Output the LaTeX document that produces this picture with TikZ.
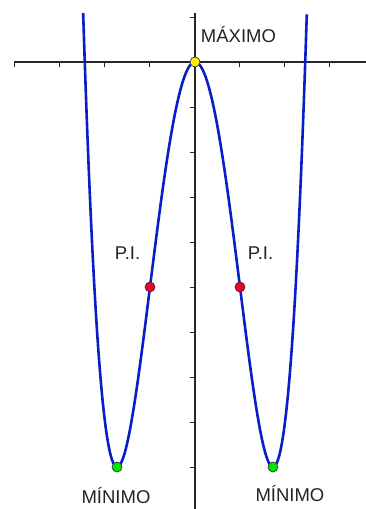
\documentclass[tikz,border=0pt]{standalone}
\usepackage{fontspec}
\setmainfont{Liberation Sans}
\definecolor{curveblue}{RGB}{10,30,200}
\definecolor{labelgray}{RGB}{35,35,35}
\definecolor{ptyellow}{RGB}{255,240,0}
\definecolor{ptred}{RGB}{240,0,40}
\definecolor{ptgreen}{RGB}{0,230,0}
\begin{document}
\begin{tikzpicture}[x=45pt,y=45pt,
  axisline/.style={line width=1.4pt,black!85},
  tickline/.style={line width=1pt,black!85},
  curveline/.style={line width=2.6pt,curveblue},
  lbl/.style={text=labelgray,font=\fontsize{18.5}{20}\selectfont,inner sep=0pt},
  pt/.style={circle,draw=black!80,line width=0.7pt,minimum size=10pt,inner sep=0pt}]
\useasboundingbox (-4.3333,-9.9333) rectangle (3.8,1.3778);
% axes
\coordinate (xl) at (-4.02,0);
\coordinate (xr) at (3.8,0);
\coordinate (yt) at (0,1.089);
\coordinate (yb) at (0,-9.9333);
\draw[axisline] (xl) -- (xr);
\draw[axisline] (yt) -- (yb);
\foreach \i in {-4,...,3} \draw[tickline] (\i,0) -- ++(0,-5pt);
\foreach \j in {1,-1,-2,...,-9} \draw[tickline] (0,\j) -- ++(-5pt,0);
% curve
\draw[curveline] plot[domain=-2.4852:2.4852,samples=241,smooth] (\x,{\x*\x*\x*\x-6*\x*\x});
% points
\node[pt,fill=ptyellow] (max) at (0,0) {};
\node[pt,fill=ptred] (pil) at (-1,-5) {};
\node[pt,fill=ptred] (pir) at (1,-5) {};
\node[pt,fill=ptgreen] (minl) at (-1.7321,-9) {};
\node[pt,fill=ptgreen] (minr) at (1.7321,-9) {};
% labels
\node[lbl] (tmax) at (0.967,0.62) {MÁXIMO};
\node[lbl] (tpil) at (-1.5,-4.24) {P.I.};
\node[lbl] (tpir) at (1.456,-4.24) {P.I.};
\node[lbl] (tminl) at (-1.756,-9.64) {MÍNIMO};
\node[lbl] (tminr) at (2.11,-9.6) {MÍNIMO};
\end{tikzpicture}
\end{document}
